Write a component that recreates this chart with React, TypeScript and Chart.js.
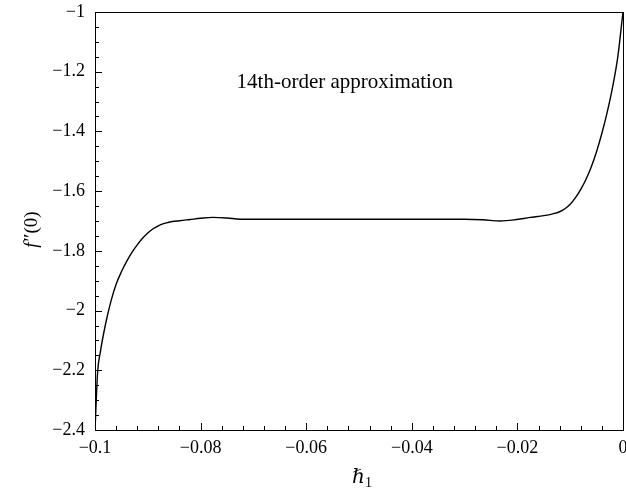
import React, { useEffect, useRef } from "react";
import { Chart, registerables } from "chart.js";

Chart.register(...registerables);

// ħ1 values (x) and f''(0) values (y)
const hbarValues = [
  -0.1, -0.0995, -0.099, -0.098, -0.097, -0.096, -0.095, -0.094, -0.093, -0.092,
  -0.091, -0.09, -0.089, -0.088, -0.087, -0.086, -0.084, -0.082, -0.08, -0.0777,
  -0.075, -0.0725, -0.07, -0.06, -0.05, -0.04, -0.03, -0.0265, -0.0233, -0.0205,
  -0.0176, -0.015, -0.0133, -0.012, -0.011, -0.01, -0.009, -0.008, -0.007, -0.006,
  -0.005, -0.004, -0.003, -0.002, -0.001, 0,
];
const fppValues = [
  -2.4, -2.205, -2.14, -2.045, -1.97, -1.912, -1.87, -1.835, -1.805, -1.78,
  -1.758, -1.74, -1.726, -1.716, -1.709, -1.704, -1.699, -1.695, -1.691, -1.688,
  -1.69, -1.694, -1.694, -1.694, -1.694, -1.694, -1.694, -1.696, -1.7, -1.696,
  -1.688, -1.682, -1.676, -1.669, -1.659, -1.644, -1.622, -1.594, -1.56, -1.518,
  -1.467, -1.406, -1.336, -1.254, -1.152, -1.0,
];

const xMin = -0.1;
const xMax = 0;
const xStep = 0.02;
const xMinorStep = 0.004;
const yMin = -2.4;
const yMax = -1;
const yStep = 0.2;
const yMinorStep = 0.05;

const annotationText = "14th-order approximation";
const annotationAt = { x: -0.0527, y: -1.235 };

const FONT = "'Liberation Serif', 'DejaVu Serif', serif";

function fmt(v: number): string {
  const r = Math.round(v * 1000) / 1000;
  if (r === 0) return "0";
  const s = String(Math.abs(r));
  return (r < 0 ? "\u2212" : "") + s;
}

const framePlugin = {
  id: "frameTicks",
  afterDatasetsDraw(chart: any) {
    const { ctx, chartArea, scales } = chart;
    const xs = scales.x;
    const ys = scales.y;
    ctx.save();
    ctx.strokeStyle = "#000";
    ctx.lineWidth = 1;
    ctx.strokeRect(
      Math.round(chartArea.left) + 0.5,
      Math.round(chartArea.top) + 0.5,
      Math.round(chartArea.right - chartArea.left),
      Math.round(chartArea.bottom - chartArea.top)
    );
    // x ticks (inward, bottom)
    const nx = Math.round((xMax - xMin) / xMinorStep);
    for (let i = 0; i <= nx; i++) {
      const v = xMin + i * xMinorStep;
      const px = Math.round(xs.getPixelForValue(v)) + 0.5;
      const major = i % Math.round(xStep / xMinorStep) === 0;
      const len = major ? 7 : 4;
      ctx.beginPath();
      ctx.moveTo(px, chartArea.bottom);
      ctx.lineTo(px, chartArea.bottom - len);
      ctx.stroke();
    }
    const ny = Math.round((yMax - yMin) / yMinorStep);
    for (let i = 0; i <= ny; i++) {
      const v = yMin + i * yMinorStep;
      const py = Math.round(ys.getPixelForValue(v)) + 0.5;
      const major = i % Math.round(yStep / yMinorStep) === 0;
      const len = major ? 7 : 4;
      ctx.beginPath();
      ctx.moveTo(chartArea.left, py);
      ctx.lineTo(chartArea.left + len, py);
      ctx.stroke();
    }
    // annotation
    ctx.fillStyle = "#000";
    ctx.font = `21px ${FONT}`;
    ctx.textAlign = "center";
    ctx.textBaseline = "middle";
    ctx.fillText(annotationText, xs.getPixelForValue(annotationAt.x), ys.getPixelForValue(annotationAt.y));

    // x axis title: italic ħ with subscript 1
    const tx = 362;
    const ty = 479;
    ctx.font = `italic 20px ${FONT}`;
    ctx.textAlign = "left";
    ctx.textBaseline = "alphabetic";
    const hW = ctx.measureText("\u210F").width;
    ctx.font = `14px ${FONT}`;
    const sW = ctx.measureText("1").width;
    const startX = tx - (hW + sW) / 2;
    ctx.font = `italic 20px ${FONT}`;
    ctx.fillText("\u210F", startX, ty + 4);
    ctx.font = `14px ${FONT}`;
    ctx.fillText("1", startX + hW, ty + 8);

    // y axis title: f''(0), rotated
    ctx.save();
    ctx.translate(32, 230);
    ctx.rotate(-Math.PI / 2);
    ctx.font = `italic 19px ${FONT}`;
    const fW = ctx.measureText("f").width;
    ctx.font = `19px ${FONT}`;
    const rest = "\u2033(0)";
    const rW = ctx.measureText(rest).width;
    const sx = -(fW + rW) / 2;
    ctx.textBaseline = "middle";
    ctx.font = `italic 19px ${FONT}`;
    ctx.fillText("f", sx, 0);
    ctx.font = `19px ${FONT}`;
    ctx.fillText(rest, sx + fW + 1, 0);
    ctx.restore();

    ctx.restore();
  },
};

export default function App() {
  const ref = useRef<HTMLCanvasElement | null>(null);
  useEffect(() => {
    if (!ref.current) return;
    const chart = new Chart(ref.current, {
      type: "scatter",
      data: {
        datasets: [
          {
            data: hbarValues.map((x, i) => ({ x, y: fppValues[i] })),
            showLine: true,
            borderColor: "#000",
            borderWidth: 1.4,
            pointRadius: 0,
            cubicInterpolationMode: "monotone",
            fill: false,
          } as any,
        ],
      },
      plugins: [framePlugin],
      options: {
        animation: false,
        responsive: false,
        devicePixelRatio: 1,
        layout: { padding: { top: 12, right: 3, left: 0, bottom: 0 } },
        plugins: {
          legend: { display: false },
          tooltip: { enabled: false },
          title: { display: false },
        },
        scales: {
          x: {
            type: "linear",
            min: xMin,
            max: xMax,
            grid: { display: false, drawTicks: false },
            border: { display: false },
            ticks: {
              stepSize: xStep,
              padding: 7,
              color: "#000",
              font: { family: FONT, size: 18 },
              maxRotation: 0,
              autoSkip: false,
              callback: (v: any) => fmt(Number(v)),
            },
            afterFit: (s: any) => {
              s.height = 63;
              s.paddingLeft = 0;
              s.paddingRight = 0;
            },
          },
          y: {
            type: "linear",
            min: yMin,
            max: yMax,
            grid: { display: false, drawTicks: false },
            border: { display: false },
            ticks: {
              stepSize: yStep,
              padding: 10,
              color: "#000",
              font: { family: FONT, size: 18 },
              autoSkip: false,
              callback: (v: any) => fmt(Number(v)),
            },
            afterFit: (s: any) => {
              s.width = 95;
              s.paddingTop = 0;
              s.paddingBottom = 0;
            },
          },
        },
      } as any,
    });
    return () => chart.destroy();
  }, []);
  return (
    <div style={{ position: "absolute", left: 0, top: 0, width: 626, height: 493, background: "#fff" }}>
      <canvas ref={ref} width={626} height={493} />
    </div>
  );
}
